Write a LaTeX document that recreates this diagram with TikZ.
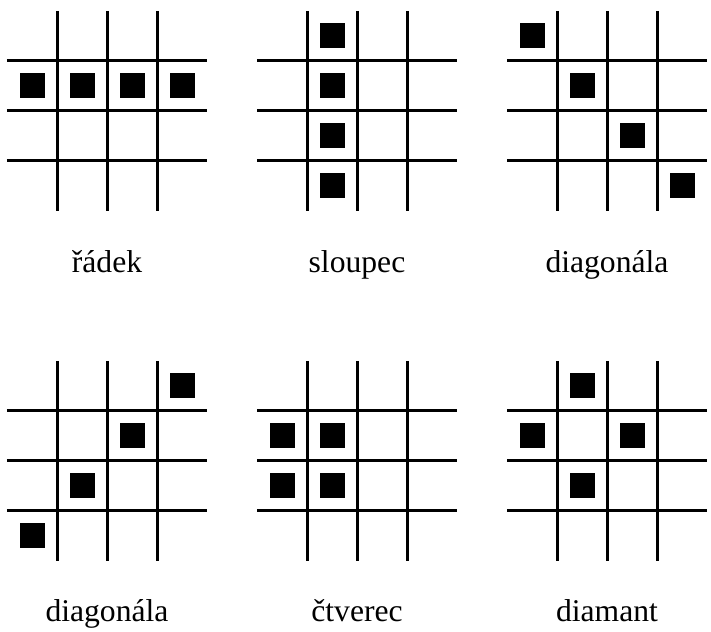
\documentclass[tikz,border=0pt]{standalone}
\usepackage{fontspec}
\setmainfont{Liberation Serif}
\usepackage{tikz}
\def\mrizka(#1,#2){\draw[line width=0.06cm] (#1+1,#2) -- (#1+1,#2-4) (#1+2,#2) -- (#1+2,#2-4) (#1+3,#2) -- (#1+3,#2-4) (#1,#2-1) -- (#1+4,#2-1) (#1,#2-2) -- (#1+4,#2-2) (#1,#2-3) -- (#1+4,#2-3);}
\def\pole(#1,#2)(#3,#4){\fill[black] (#1+#3-0.75,#2-#4+0.25) rectangle ++(0.5,0.5);}

\begin{document}
\begin{tikzpicture}
			%%%%% START %%%%%
			\useasboundingbox (0,0) rectangle (14.22,12.64);
			
			% radek
			\mrizka(0.14,12.42)
			\pole(0.14,12.42)(1,2) \pole(0.14,12.42)(2,2) \pole(0.14,12.42)(3,2) \pole(0.14,12.42)(4,2)
			\node[anchor=base, font=\fontsize{18}{22}\selectfont] (radek) at (2.14, 7.18) {řádek};
			
			% sloupec
			\mrizka(5.14,12.42)
			\pole(5.14,12.42)(2,1) \pole(5.14,12.42)(2,2) \pole(5.14,12.42)(2,3) \pole(5.14,12.42)(2,4)
			\node[anchor=base, font=\fontsize{18}{22}\selectfont] (sloupec) at (7.14, 7.18) {sloupec};
			
			% diagonala
			\mrizka(10.14,12.42)
			\pole(10.14,12.42)(1,1) \pole(10.14,12.42)(2,2) \pole(10.14,12.42)(3,3) \pole(10.14,12.42)(4,4)
			\node[anchor=base, font=\fontsize{18}{22}\selectfont] (diag1) at (12.14, 7.18) {diagonála};
			
			% diagonala druha
			\mrizka(0.14,5.42)
			\pole(0.14,5.42)(4,1) \pole(0.14,5.42)(3,2) \pole(0.14,5.42)(2,3) \pole(0.14,5.42)(1,4)
			\node[anchor=base, font=\fontsize{18}{22}\selectfont] (diag2) at (2.14, 0.2) {diagonála};
			
			% ctverec
			\mrizka(5.14,5.42)
			\pole(5.14,5.42)(1,2) \pole(5.14,5.42)(2,2) \pole(5.14,5.42)(1,3) \pole(5.14,5.42)(2,3)
			\node[anchor=base, font=\fontsize{18}{22}\selectfont] (ctverec) at (7.14, 0.2) {čtverec};
			
			% diamant
			\mrizka(10.14,5.42)
			\pole(10.14,5.42)(2,1) \pole(10.14,5.42)(1,2) \pole(10.14,5.42)(3,2) \pole(10.14,5.42)(2,3)
			\node[anchor=base, font=\fontsize{18}{22}\selectfont] (diamant) at (12.14, 0.2) {diamant};
			
			%%%%% END %%%%%
\end{tikzpicture}
\end{document}
